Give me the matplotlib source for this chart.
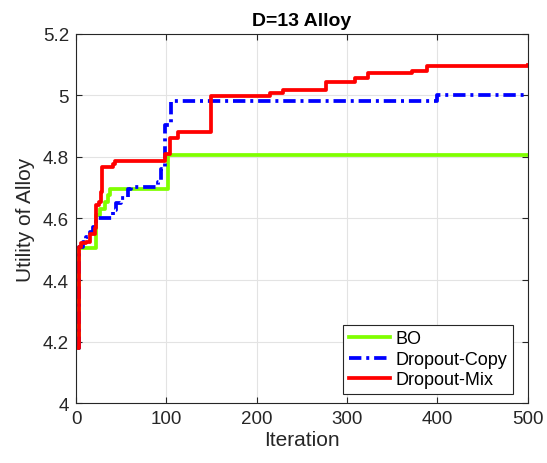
import matplotlib
matplotlib.use('Agg')
import matplotlib.pyplot as plt

plt.rcParams['font.family'] = ['Liberation Sans', 'DejaVu Sans']

# step data (iteration, best utility so far)
bo_x = [2, 3.3, 20.7, 21.8, 26, 31.7, 35.4, 37.3, 101, 102, 500]
bo_y = [4.18, 4.503, 4.503, 4.611, 4.632, 4.654, 4.676, 4.697, 4.697, 4.806, 4.806]

copy_x = [2, 3.3, 7.8, 11.4, 15, 18.8, 22.5, 39, 41, 44.7, 50, 57.6, 61, 81.6,
          90.8, 94.5, 99, 105.5, 388, 399, 500]
copy_y = [4.18, 4.508, 4.524, 4.54, 4.557, 4.573, 4.6, 4.6, 4.627, 4.649, 4.665,
          4.697, 4.703, 4.703, 4.719, 4.762, 4.903, 4.981, 4.981, 5.0, 5.0]

mix_x = [2.2, 3.3, 5.9, 11.4, 15, 20.7, 21.8, 25.5, 28, 29.2, 41, 42.8, 98, 104,
         113, 149, 214.5, 229, 277, 309, 323.5, 371.4, 388, 500]
mix_y = [4.178, 4.508, 4.519, 4.524, 4.551, 4.568, 4.643, 4.654, 4.686, 4.768,
         4.778, 4.787, 4.811, 4.860, 4.881, 4.998, 5.009, 5.016, 5.043, 5.056,
         5.074, 5.078, 5.097, 5.099]

fig = plt.figure(figsize=(5.47, 4.64), dpi=100)
ax = fig.add_axes([0.139, 0.129, 0.826, 0.796])

ax.step(bo_x, bo_y, where='post', color='#80ff00', lw=2.7, label='BO')
ax.step(copy_x, copy_y, where='post', color='#0000ff', lw=2.7,
        dashes=(3.3, 1.3, 0.8, 1.3), label='Dropout-Copy')
ax.step(mix_x, mix_y, where='post', color='#ff0000', lw=2.7, label='Dropout-Mix')

ax.set_xlim(0, 500)
ax.set_ylim(4, 5.2)
ax.set_xticks([0, 100, 200, 300, 400, 500])
ax.set_yticks([4, 4.2, 4.4, 4.6, 4.8, 5, 5.2])
ax.set_yticklabels(['4', '4.2', '4.4', '4.6', '4.8', '5', '5.2'])
ax.grid(True, color='#e3e3e3', lw=0.8)
ax.set_axisbelow(True)
ax.tick_params(direction='in', top=True, right=True, labelsize=13.5,
               colors='#262626', length=4, pad=5)
for s in ax.spines.values():
    s.set_color('#262626')
    s.set_linewidth(0.8)

ax.set_xlabel('Iteration', fontsize=15, color='#262626', labelpad=2)
ax.set_ylabel('Utility of Alloy', fontsize=15, color='#262626', labelpad=6)
ax.set_title('D=13 Alloy', fontsize=14, fontweight='bold', pad=6)

leg = ax.legend(loc='lower right', bbox_to_anchor=(0.967, 0.025), fontsize=13,
                fancybox=False, framealpha=1, edgecolor='#262626',
                handlelength=2.3, borderpad=0.3, labelspacing=0.2,
                handletextpad=0.3, borderaxespad=0.0)
leg.get_frame().set_linewidth(0.8)

fig.savefig('out.png', dpi=100)
